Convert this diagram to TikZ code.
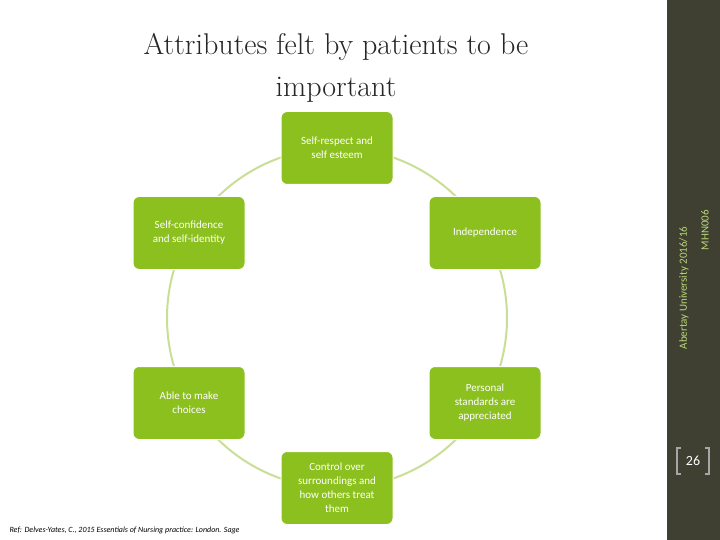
\documentclass[tikz,border=0pt]{standalone}
\usepackage{fontspec}
\setsansfont{Carlito}
\usetikzlibrary{positioning}
\definecolor{leaf}{HTML}{8CC01E}
\definecolor{ring}{HTML}{C9DE96}
\definecolor{barcol}{HTML}{3F3F32}
\tikzset{
  item/.style={rectangle, rounded corners=6pt, fill=leaf, draw=white, line width=1pt,
    minimum width=112pt, minimum height=73pt, align=center,
    text=white, font=\sffamily\fontsize{11}{14}\selectfont, inner sep=2pt},
}
\begin{document}
\begin{tikzpicture}[x=1pt,y=1pt]
\useasboundingbox (0,0) rectangle (720,-540);
\fill[white] (0,0) rectangle (720,-540);
\fill[barcol] (667,0) rectangle (720,-540);
% title
\node (title) at (336,-68) [align=center, font=\fontsize{30}{42}\selectfont, text=black!85] {Attributes felt by patients to be\\important};
% ring behind the boxes
\node (hub) at (337,-318) {};
\draw[ring, line width=2pt] (hub.center) circle (170);
% boxes
\node[item] (respect) at (337,-148) {Self-respect and\\self esteem};
\node[item] (confidence) at (189,-233) {Self-confidence\\and self-identity};
\node[item] (independence) at (485,-233) {Independence};
\node[item] (choices) at (189,-403) {Able to make\\choices};
\node[item] (standards) at (485,-403) {Personal\\standards are\\appreciated};
\node[item] (control) at (337,-488) {Control over\\surroundings and\\how others treat\\them};
% side bar
\node (uni) at (684,-288) [rotate=90, text=leaf!60!white, font=\sffamily\fontsize{11}{13}\selectfont] {Abertay University 2016/16};
\node (code) at (705,-230) [rotate=90, text=leaf!60!white, font=\sffamily\fontsize{11}{13}\selectfont] {MHN006};
\node (page) at (693,-461) [text=white, font=\sffamily\fontsize{14}{16}\selectfont] {26};
\draw[gray!70, line width=1.5pt] ([xshift=-12pt,yshift=13pt]page.center) -- ++(-4,0) -- ++(0,-26) -- ++(4,0);
\draw[gray!70, line width=1.5pt] ([xshift=12pt,yshift=13pt]page.center) -- ++(4,0) -- ++(0,-26) -- ++(-4,0);
% reference
\node (ref) at (6,-530) [anchor=west, font=\sffamily\itshape\fontsize{8}{9}\selectfont] {Ref: Delves-Yates, C., 2015 Essentials of Nursing practice: London. Sage};
\end{tikzpicture}
\end{document}
